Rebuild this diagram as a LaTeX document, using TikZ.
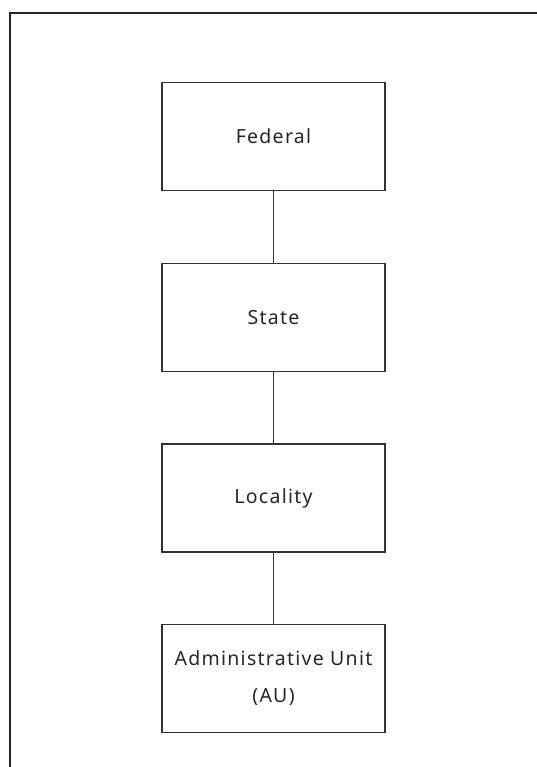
\documentclass[tikz,border=0pt]{standalone}
\usepackage{fontspec}
\setmainfont{Noto Sans}
\begin{document}
\begin{tikzpicture}[x=1pt,y=-1pt,
  lvl/.style={draw=black!80, line width=1.3pt, minimum width=223pt, minimum height=108pt,
    inner sep=0pt, text=black!85, align=center,
    font=\fontsize{19.5}{37}\selectfont\addfontfeature{LetterSpace=6.5}},
  link/.style={draw=black!80, line width=1.3pt}]
\useasboundingbox (0,0) rectangle (537,767);
\draw[line width=2pt, black!85] (10,767) -- (10,13.5) -- (537,13.5);
\node[lvl] (fed) at (273.5,136.5) {Federal};
\node[lvl] (state) at (273.5,317.5) {State};
\node[lvl] (loc) at (273.5,498) {Locality};
\node[lvl] (au) at (273.5,678.5) {Administrative Unit\\(AU)};
\draw[link] (fed) -- (state);
\draw[link] (state) -- (loc);
\draw[link] (loc) -- (au);
\end{tikzpicture}
\end{document}
